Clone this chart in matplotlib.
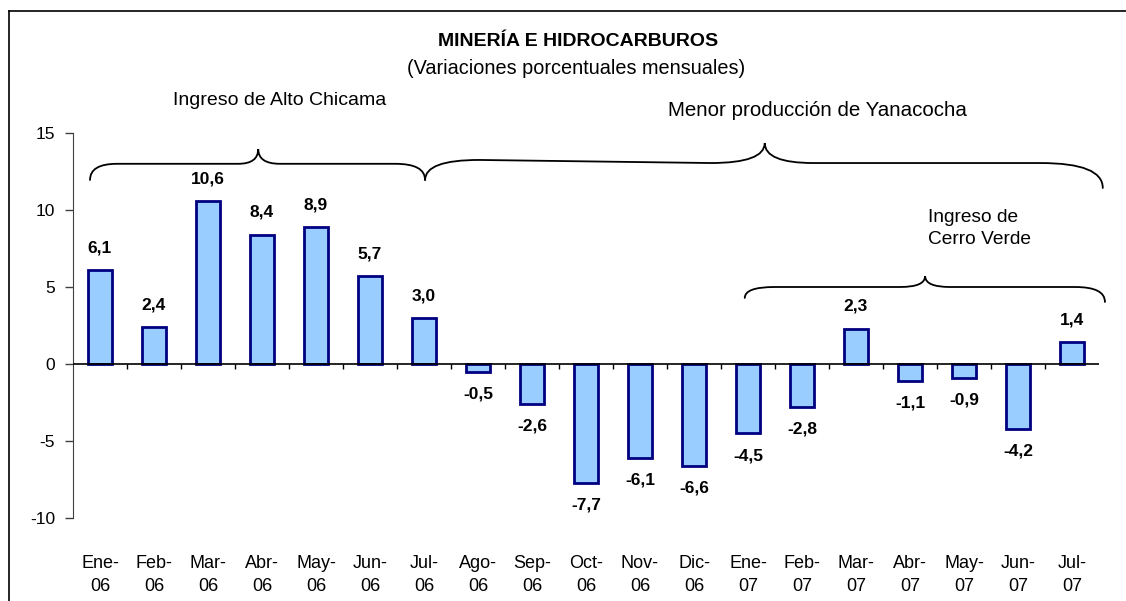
import matplotlib
matplotlib.use('Agg')
import matplotlib.pyplot as plt
from matplotlib.path import Path
from matplotlib.patches import PathPatch
from matplotlib.lines import Line2D
import numpy as np

plt.rcParams['font.family'] = ['Liberation Sans', 'DejaVu Sans']

# data
months = ['Ene-\n06', 'Feb-\n06', 'Mar-\n06', 'Abr-\n06', 'May-\n06', 'Jun-\n06', 'Jul-\n06',
          'Ago-\n06', 'Sep-\n06', 'Oct-\n06', 'Nov-\n06', 'Dic-\n06', 'Ene-\n07', 'Feb-\n07',
          'Mar-\n07', 'Abr-\n07', 'May-\n07', 'Jun-\n07', 'Jul-\n07']
values = [6.1, 2.4, 10.6, 8.4, 8.9, 5.7, 3.0, -0.5, -2.6, -7.7, -6.1, -6.6,
          -4.5, -2.8, 2.3, -1.1, -0.9, -4.2, 1.4]
y_ticks = [-10, -5, 0, 5, 10, 15]


def brace(ax, x0, x1, xt, yl, yr, fl, fm, fr, ytip, re_l, rt_l, rt_r, re_r):
    # curly brace opening downwards, tip pointing up at xt
    verts = [(x0, yl),
             (x0, fl), (x0 + re_l, fl),
             (xt - rt_l, fm),
             (xt, fm), (xt, ytip),
             (xt, fm), (xt + rt_r, fm),
             (x1 - re_r, fr),
             (x1, fr), (x1, yr)]
    codes = [Path.MOVETO,
             Path.CURVE3, Path.CURVE3,
             Path.LINETO,
             Path.CURVE3, Path.CURVE3,
             Path.CURVE3, Path.CURVE3,
             Path.LINETO,
             Path.CURVE3, Path.CURVE3]
    ax.add_patch(PathPatch(Path(verts, codes), fill=False, lw=1.3, edgecolor='black',
                           clip_on=False, capstyle='round'))


fig = plt.figure(figsize=(11.26, 6.01), dpi=100)
ax = fig.add_axes([73 / 1126, 1 - 518 / 601, 1026 / 1126, 385 / 601])

x = np.arange(len(values))
ax.bar(x, values, width=0.45, color='#99CCFF', edgecolor='#000080', linewidth=2, zorder=3)

for xi, v in zip(x, values):
    lbl = f'{v:.1f}'.replace('.', ',')
    off = 16 if v >= 0 else -16
    ax.annotate(lbl, (xi, v), xytext=(0, off), textcoords='offset points',
                ha='center', va='center', fontsize=12.5, fontweight='bold')

ax.set_xlim(-0.5, len(values) - 0.5)
ax.set_ylim(-10, 15)
ax.set_yticks(y_ticks)
ax.set_yticklabels([str(t) for t in y_ticks], fontsize=12.5)
ax.tick_params(axis='y', length=6, width=1, direction='out', pad=7, color='#404040')

ax.set_xticks(x)
ax.set_xticklabels(months, fontsize=13, linespacing=1.45)
ax.tick_params(axis='x', length=0, pad=27)

for s in ['top', 'right', 'bottom']:
    ax.spines[s].set_visible(False)
ax.spines['left'].set_color('#404040')

# zero line with category ticks
ax.axhline(0, color='black', lw=1.2, zorder=4)
ax.vlines(np.arange(0.5, len(values) - 0.5), 0, -0.35, color='black', lw=1, zorder=4)

# braces
brace(ax, -0.185, 6.02, 2.93, 11.95, 11.95, 13.0, 13.0, 13.0, 13.96, 0.5, 0.37, 0.4, 0.55)
brace(ax, 6.02, 18.57, 12.31, 11.95, 11.43, 13.25, 13.05, 13.05, 14.35, 1.0, 1.0, 0.9, 1.15)
brace(ax, 11.94, 18.61, 15.28, 4.29, 4.03, 5.0, 5.0, 5.0, 5.71, 0.55, 0.46, 0.46, 0.55)

ax.text(3.33, 17.1, 'Ingreso de Alto Chicama', ha='center', va='center', fontsize=14)
ax.text(13.28, 16.45, 'Menor producción de Yanacocha', ha='center', va='center', fontsize=14.8)
ax.text(15.33, 8.8, 'Ingreso de\nCerro Verde', ha='left', va='center', fontsize=13.8,
        linespacing=1.35)

fig.text(578 / 1126, 1 - 42 / 601, 'MINERÍA E HIDROCARBUROS', ha='center', va='center',
         fontsize=14, fontweight='bold')
fig.text(576 / 1126, 1 - 69 / 601, '(Variaciones porcentuales mensuales)', ha='center',
         va='center', fontsize=14.3)

# outer frame (left and top only visible)
fig.add_artist(Line2D([9 / 1126, 9 / 1126], [0, 1 - 11 / 601], color='black', lw=1.2))
fig.add_artist(Line2D([9 / 1126, 1], [1 - 11 / 601, 1 - 11 / 601], color='black', lw=1.2))

fig.savefig('out.png', dpi=100)
